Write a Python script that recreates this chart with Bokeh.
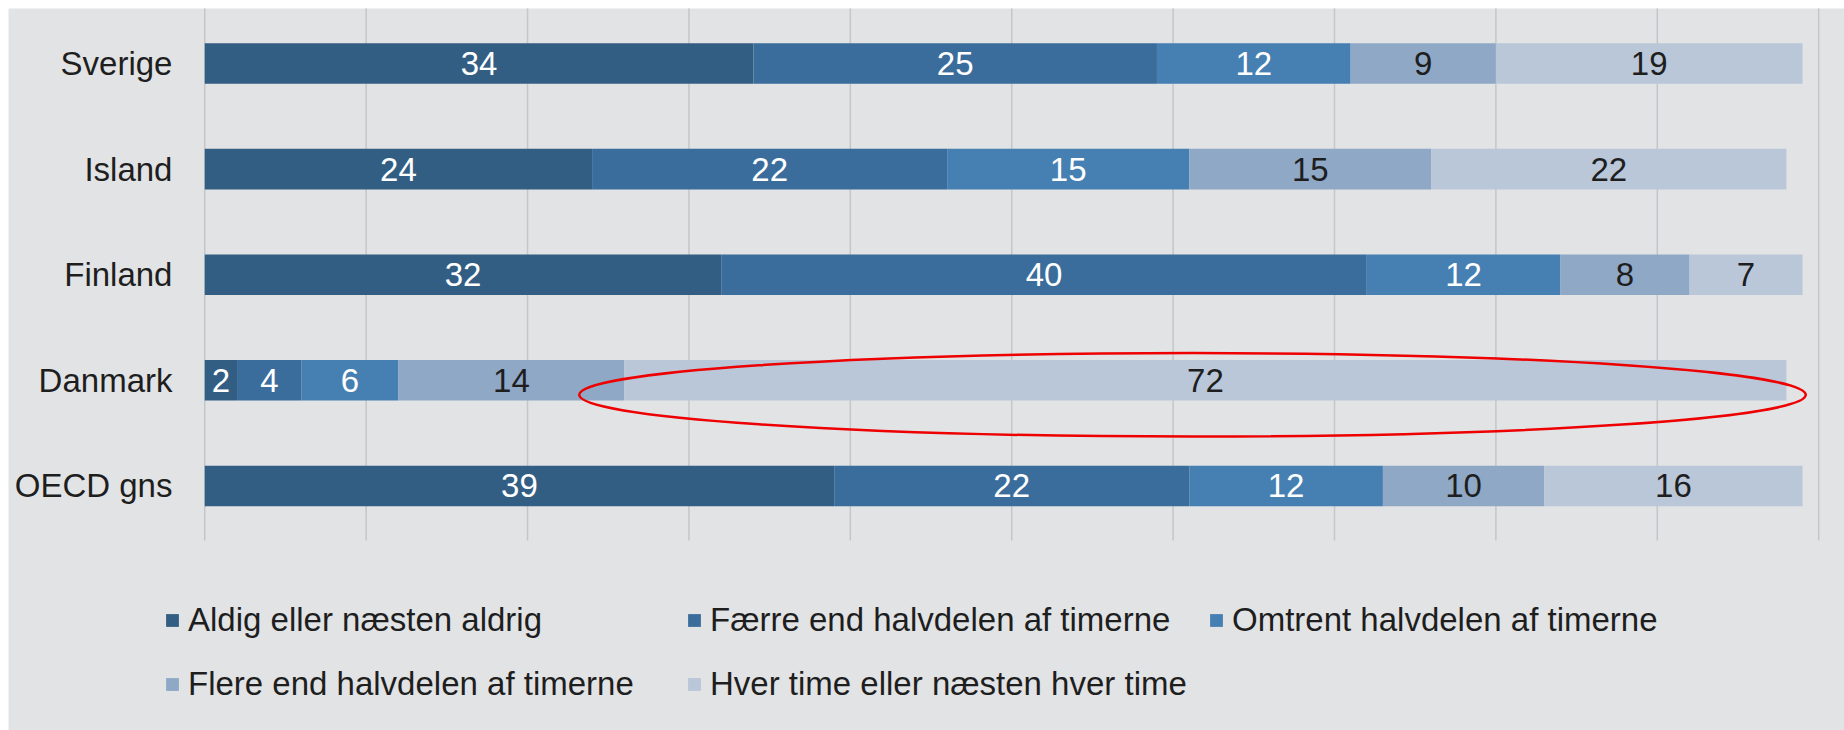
import numpy as np
from bokeh.plotting import figure
from bokeh.models import ColumnDataSource, Range1d, Legend, LegendItem
from bokeh.core.properties import value
from bokeh.embed import file_html
from bokeh.resources import INLINE

# ---- data ----
countries = ["Sverige", "Island", "Finland", "Danmark", "OECD gns"]
series_names = [
    "Aldig eller næsten aldrig",
    "Færre end halvdelen af timerne",
    "Omtrent halvdelen af timerne",
    "Flere end halvdelen af timerne",
    "Hver time eller næsten hver time",
]
aldrig = [34, 24, 32, 2, 39]
faerre = [25, 22, 40, 4, 22]
omtrent = [12, 15, 12, 6, 12]
flere = [9, 15, 8, 14, 10]
hver = [19, 22, 7, 72, 16]
x_ticks = [0, 10, 20, 30, 40, 50, 60, 70, 80, 90, 100]

# ---- style ----
colors = ["#335e84", "#3b6d9c", "#4680b3", "#8ea8c6", "#b9c7d9"]
text_colors = ["#ffffff", "#ffffff", "#ffffff", "#1e1e1e", "#1e1e1e"]
bg = "#e2e3e5"
FONT = "Liberation Sans"

# row positions (top row highest)
ypos = [4, 3, 2, 1, 0]

keys = ["s0", "s1", "s2", "s3", "s4"]
series = [aldrig, faerre, omtrent, flere, hver]
data = {"country": countries, "y": ypos}
for k, s in zip(keys, series):
    data[k] = s
source = ColumnDataSource(data)

W, H = 1836, 722
p = figure(
    width=W, height=H,
    x_range=Range1d(-12.16, 101.6),
    y_range=Range1d(-2.316, 4.521),
    output_backend="svg", toolbar_location=None,
    min_border_left=0, min_border_right=0, min_border_top=0, min_border_bottom=0,
)
p.margin = (8, 0, 0, 8)
p.background_fill_color = bg
p.border_fill_color = bg
p.outline_line_color = None
p.xaxis.visible = False
p.yaxis.visible = False
p.xgrid.grid_line_color = None
p.ygrid.grid_line_color = None

# vertical grid lines over the bar area
grid_bottom, grid_top = -0.517, 4.53
p.segment(x0=x_ticks, x1=x_ticks, y0=[grid_bottom] * len(x_ticks), y1=[grid_top] * len(x_ticks),
          line_color="#c5c6c8", line_width=1.5)

renderers = p.hbar_stack(keys, y="y", height=0.384, color=colors, source=source, line_color=None)

# category labels (left of the axis zero)
p.text(x=[-2.0] * len(countries), y=ypos, text=countries, text_align="right", text_baseline="middle",
       text_color="#1e1e1e", text_font=value(FONT), text_font_size="33px")

# value labels
arr = np.array(series, dtype=float)
cum = np.cumsum(arr, axis=0)
starts = cum - arr
for i in range(len(keys)):
    centers = (starts[i] + cum[i]) / 2.0
    lsrc = ColumnDataSource(dict(x=centers, y=ypos, t=[str(v) for v in series[i]]))
    p.text(x="x", y="y", text="t", source=lsrc, text_align="center", text_baseline="middle",
           text_color=text_colors[i], text_font=value(FONT), text_font_size="33px")

# red ellipse annotation around Danmark's last segment
ell_x, ell_w = 61.2, 76.0
ell_y, ell_h = 1 - 0.137, 0.79
p.ellipse(x=[ell_x], y=[ell_y], width=[ell_w], height=[ell_h],
          fill_color=None, line_color="#ee0000", line_width=2.5)

legend = Legend(
    items=[LegendItem(label=n, renderers=[r]) for n, r in zip(series_names, renderers)],
    location=(156, 24),
    orientation="horizontal",
    ncols=3,
    glyph_width=16, glyph_height=16, label_standoff=8,
    label_width=478, label_height=44, spacing=20,
    padding=0, margin=0,
    border_line_color=None, background_fill_alpha=0,
    label_text_font=FONT, label_text_font_size="33px", label_text_color="#1e1e1e",
)
p.add_layout(legend, "center")

open("out.html", "w").write(file_html(p, INLINE))
